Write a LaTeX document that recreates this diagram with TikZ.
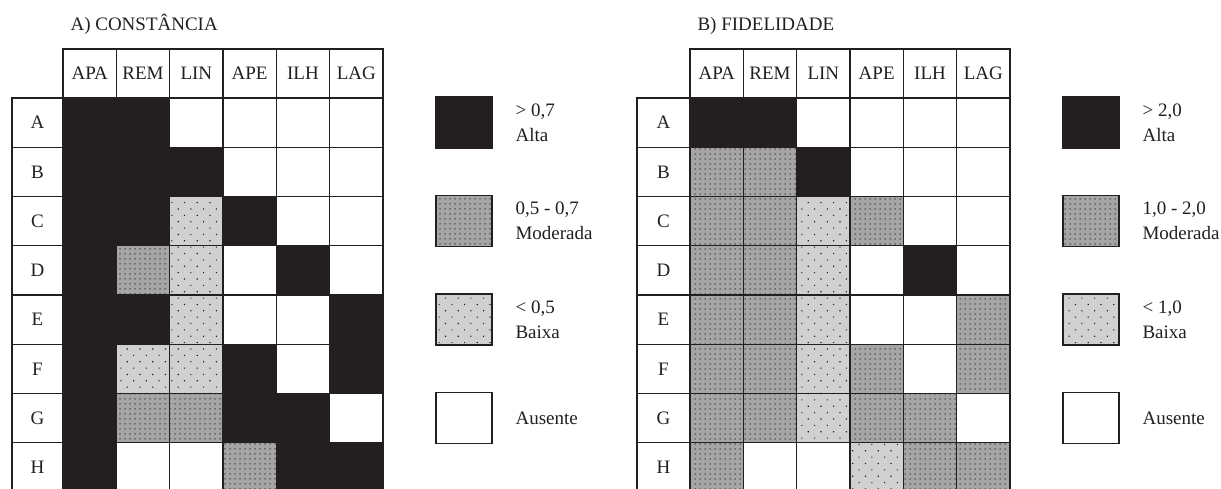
\documentclass[tikz,border=0pt]{standalone}
\usepackage{fontspec}
\setmainfont{Liberation Serif}
\usetikzlibrary{patterns.meta}
\definecolor{tinta}{RGB}{35,31,32}
\definecolor{cinzam}{RGB}{165,165,165}
\definecolor{cinzab}{RGB}{208,208,208}
\tikzset{
  grelha/.style={draw=tinta,line width=1.3pt},
  alta/.style={grelha,fill=tinta},
  moderada/.style={grelha,preaction={fill=cinzam},pattern={Dots[distance=5pt,radius=0.75pt]},pattern color=black!80},
  baixa/.style={grelha,preaction={fill=cinzab},pattern={Dots[distance=9pt,angle=45,radius=0.8pt]},pattern color=black!90},
  ausente/.style={grelha,fill=white},
  rotulo/.style={font=\fontsize{19}{25}\selectfont,text=tinta},
  legenda/.style={rotulo,anchor=west,align=left},
}
\begin{document}
\begin{tikzpicture}[x=1pt,y=-1pt]
\useasboundingbox (0,0) rectangle (1221,489);
% A) constancia
\node[rotulo,anchor=base west] (tituloA) at (67,31) {A) CONSTÂNCIA};
\foreach \nome [count=\j from 0] in {APA,REM,LIN,APE,ILH,LAG} {
  \draw[ausente] (63+\j*53.33,49) rectangle ++(53.33,49);
  \node[rotulo] (cabA\j) at (89.67+\j*53.33,73.5) {\nome};
}
\foreach \lin/\cels [count=\i from 0] in {
  A/{alta,alta,ausente,ausente,ausente,ausente},
  B/{alta,alta,alta,ausente,ausente,ausente},
  C/{alta,alta,baixa,alta,ausente,ausente},
  D/{alta,moderada,baixa,ausente,alta,ausente},
  E/{alta,alta,baixa,ausente,ausente,alta},
  F/{alta,baixa,baixa,alta,ausente,alta},
  G/{alta,moderada,moderada,alta,alta,ausente},
  H/{alta,ausente,ausente,moderada,alta,alta}} {
  \draw[ausente] (12,98+\i*49.25) rectangle ++(51,49.25);
  \node[rotulo] (linA\lin) at (37.5,122.6+\i*49.25) {\lin};
  \foreach \est [count=\j from 0] in \cels
    \draw[\est] (63+\j*53.33,98+\i*49.25) rectangle ++(53.33,49.25);
}
\draw[alta] (436,97) rectangle (492,148);
\draw[moderada] (436,195.5) rectangle (492,246.5);
\draw[baixa] (436,294) rectangle (492,345);
\draw[ausente] (436,392.5) rectangle (492,443.5);
\node[legenda] (legA1) at (512,122.5) {> 0,7\\Alta};
\node[legenda] (legA2) at (512,221) {0,5 - 0,7\\Moderada};
\node[legenda] (legA3) at (512,319.5) {< 0,5\\Baixa};
\node[legenda] (legA4) at (512,418) {Ausente};
% B) fidelidade
\node[rotulo,anchor=base west] (tituloB) at (694,31) {B) FIDELIDADE};
\foreach \nome [count=\j from 0] in {APA,REM,LIN,APE,ILH,LAG} {
  \draw[ausente] (690+\j*53.33,49) rectangle ++(53.33,49);
  \node[rotulo] (cabB\j) at (716.67+\j*53.33,73.5) {\nome};
}
\foreach \lin/\cels [count=\i from 0] in {
  A/{alta,alta,ausente,ausente,ausente,ausente},
  B/{moderada,moderada,alta,ausente,ausente,ausente},
  C/{moderada,moderada,baixa,moderada,ausente,ausente},
  D/{moderada,moderada,baixa,ausente,alta,ausente},
  E/{moderada,moderada,baixa,ausente,ausente,moderada},
  F/{moderada,moderada,baixa,moderada,ausente,moderada},
  G/{moderada,moderada,baixa,moderada,moderada,ausente},
  H/{moderada,ausente,ausente,baixa,moderada,moderada}} {
  \draw[ausente] (637,98+\i*49.25) rectangle ++(53,49.25);
  \node[rotulo] (linB\lin) at (663.5,122.6+\i*49.25) {\lin};
  \foreach \est [count=\j from 0] in \cels
    \draw[\est] (690+\j*53.33,98+\i*49.25) rectangle ++(53.33,49.25);
}
\draw[alta] (1063,97) rectangle (1119,148);
\draw[moderada] (1063,195.5) rectangle (1119,246.5);
\draw[baixa] (1063,294) rectangle (1119,345);
\draw[ausente] (1063,392.5) rectangle (1119,443.5);
\node[legenda] (legB1) at (1139,122.5) {> 2,0\\Alta};
\node[legenda] (legB2) at (1139,221) {1,0 - 2,0\\Moderada};
\node[legenda] (legB3) at (1139,319.5) {< 1,0\\Baixa};
\node[legenda] (legB4) at (1139,418) {Ausente};
\end{tikzpicture}
\end{document}
